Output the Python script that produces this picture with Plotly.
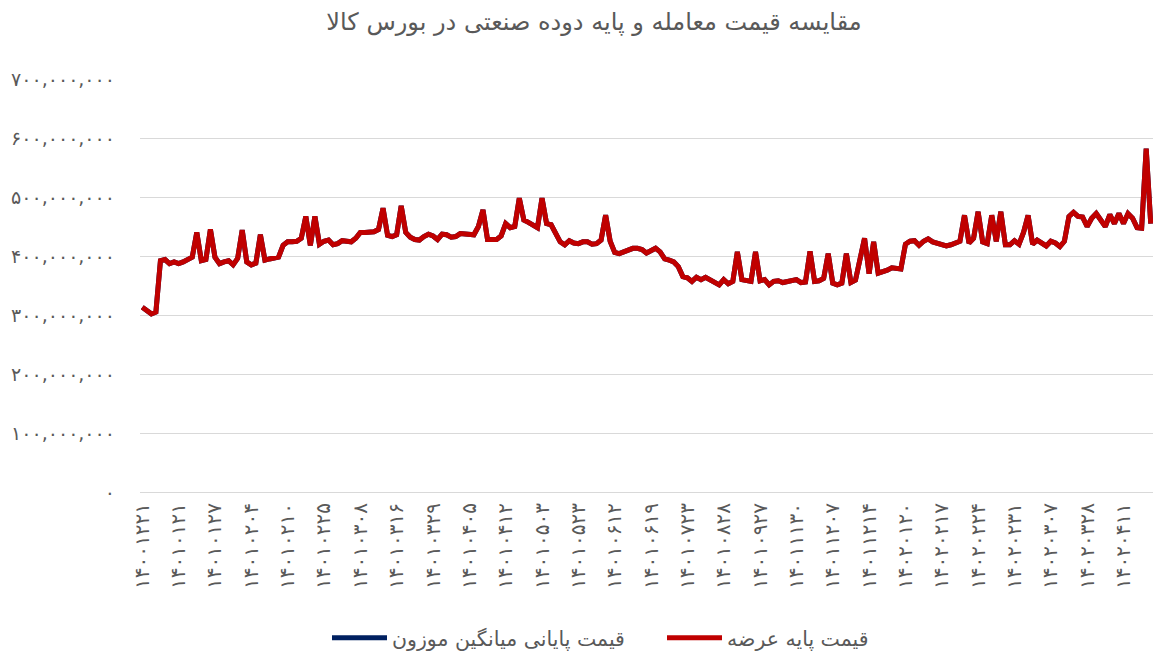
import plotly.graph_objects as go

# x-axis labels shown every 8th session (Jalali dates, Persian digits)
date_labels = [
    "۱۴۰۰۱۲۲۱", "۱۴۰۱۰۱۲۱", "۱۴۰۱۰۱۲۷", "۱۴۰۱۰۲۰۴", "۱۴۰۱۰۲۱۰", "۱۴۰۱۰۲۲۵",
    "۱۴۰۱۰۳۰۸", "۱۴۰۱۰۳۱۶", "۱۴۰۱۰۳۲۹", "۱۴۰۱۰۴۰۵", "۱۴۰۱۰۴۱۲", "۱۴۰۱۰۵۰۳",
    "۱۴۰۱۰۵۲۳", "۱۴۰۱۰۶۱۲", "۱۴۰۱۰۶۱۹", "۱۴۰۱۰۷۲۳", "۱۴۰۱۰۸۲۸", "۱۴۰۱۰۹۲۷",
    "۱۴۰۱۱۱۳۰", "۱۴۰۱۱۲۰۷", "۱۴۰۱۱۲۱۴", "۱۴۰۲۰۱۲۰", "۱۴۰۲۰۲۱۷", "۱۴۰۲۰۲۲۴",
    "۱۴۰۲۰۲۳۱", "۱۴۰۲۰۳۰۷", "۱۴۰۲۰۳۲۸", "۱۴۰۲۰۴۱۱",
]
label_step = 8

# base price per session, million rials
base_price_m = [
    313, 308, 302, 305, 392, 394, 387, 390, 387, 390, 393, 398, 440, 392, 394, 445,
    398, 387, 390, 392, 385, 396, 444, 390, 385, 388, 436, 393, 395, 396, 398, 418,
    424, 424, 425, 430, 467, 418, 467, 420, 425, 427, 419, 421, 426, 425, 424, 430,
    440, 440, 440, 441, 445, 481, 435, 433, 436, 485, 440, 432, 428, 427, 433, 437,
    434, 428, 437, 436, 432, 433, 438, 437, 437, 436, 450, 478, 428, 427, 428, 434,
    455, 448, 450, 498, 461, 457, 453, 448, 498, 455, 453, 440, 424, 419, 426, 422,
    421, 424, 424, 420, 421, 427, 469, 425, 406, 404, 407, 412, 413, 413, 411, 405,
    410, 413, 407, 395, 393, 390, 382, 365, 363, 357, 364, 360, 364, 360, 354, 351,
    360, 353, 357, 407, 360, 358, 357, 407, 358, 360, 351, 357, 358, 355, 357, 360,
    360, 355, 356, 408, 357, 358, 362, 404, 354, 351, 354, 404, 355, 359, 400, 430,
    370, 424, 371, 373, 376, 380, 380, 378, 420, 425, 426, 418, 425, 429, 424, 421,
    418, 417, 419, 421, 425, 469, 422, 430, 475, 424, 421, 469, 425, 475, 419, 419,
    426, 420, 440, 469, 420, 427, 421, 417, 425, 422, 416, 425, 467, 474, 467, 466,
    450, 464, 472, 460, 450, 470, 455, 472, 455, 472, 464, 448, 447, 582, 455,
]
# weighted average close sits under the base-price line everywhere
final_price_m = list(base_price_m)

y_ticks = [0, 100e6, 200e6, 300e6, 400e6, 500e6, 600e6, 700e6]
y_tick_labels = [
    "۰", "۱۰۰,۰۰۰,۰۰۰", "۲۰۰,۰۰۰,۰۰۰", "۳۰۰,۰۰۰,۰۰۰",
    "۴۰۰,۰۰۰,۰۰۰", "۵۰۰,۰۰۰,۰۰۰", "۶۰۰,۰۰۰,۰۰۰", "۷۰۰,۰۰۰,۰۰۰",
]

FONT = "DejaVu Sans, Noto Sans, sans-serif"
GRAY = "#595959"

n = len(base_price_m)
x = list(range(n))
tick_pos = [i * label_step for i in range(len(date_labels))]

fig = go.Figure()
fig.add_trace(
    go.Scatter(
        x=x,
        y=[v * 1e6 for v in final_price_m],
        mode="lines",
        name="قیمت پایانی میانگین موزون",
        line=dict(color="#002060", width=5),
    )
)
fig.add_trace(
    go.Scatter(
        x=x,
        y=[v * 1e6 for v in base_price_m],
        mode="lines",
        name="قیمت پایه عرضه",
        line=dict(color="#C00000", width=5),
    )
)

fig.update_layout(
    width=1153,
    height=652,
    paper_bgcolor="white",
    plot_bgcolor="white",
    margin=dict(l=140, r=0, t=79, b=160),
    font=dict(family=FONT, color=GRAY),
    title=dict(
        text="مقایسه قیمت معامله و پایه دوده صنعتی در بورس کالا",
        x=594 / 1153,
        xref="container",
        xanchor="center",
        y=1 - 22 / 652,
        yref="container",
        yanchor="middle",
        font=dict(size=24, color=GRAY, family=FONT),
    ),
    legend=dict(
        orientation="h",
        xref="container",
        yref="container",
        x=327 / 1153,
        xanchor="left",
        y=14 / 652,
        yanchor="middle",
        itemwidth=55,
        entrywidth=265,
        font=dict(size=20.5, color=GRAY, family=FONT),
        traceorder="normal",
    ),
    showlegend=True,
    hovermode="x unified",
)
fig.update_xaxes(
    range=[-0.5, n - 0.5],
    tickmode="array",
    tickvals=tick_pos,
    ticktext=date_labels,
    tickangle=-90,
    tickfont=dict(size=20, color=GRAY, family=FONT),
    showgrid=False,
    zeroline=False,
    showline=False,
    ticks="",
    ticklabelstandoff=6,
)
fig.update_yaxes(
    range=[0, 700e6],
    tickmode="array",
    tickvals=y_ticks,
    ticktext=y_tick_labels,
    tickfont=dict(size=19, color=GRAY, family=FONT),
    showgrid=True,
    gridcolor="#D9D9D9",
    gridwidth=1,
    zeroline=True,
    zerolinecolor="#D9D9D9",
    zerolinewidth=1,
    showline=False,
    ticks="",
    ticklabelstandoff=24,
)

# the page body has a default 8px margin; drop it so the figure sits at 0,0
fig.write_html(
    "out.html",
    config={"displayModeBar": False},
    post_script="document.body.style.margin = '0';",
)
